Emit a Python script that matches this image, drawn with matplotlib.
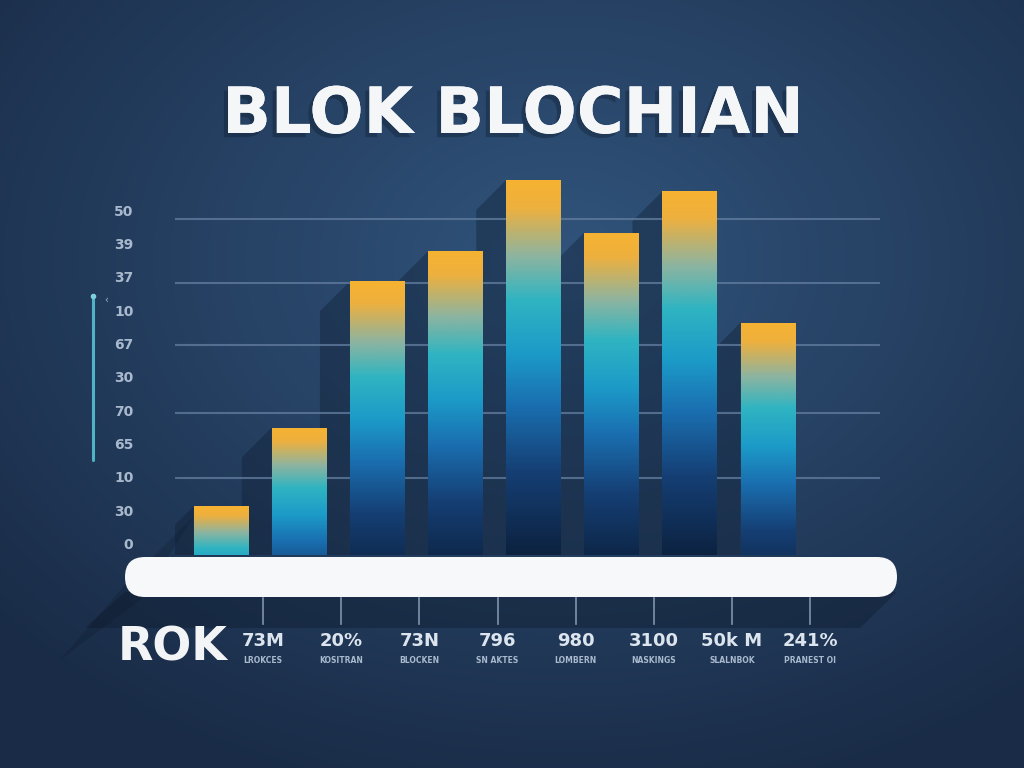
import numpy as np
import matplotlib
matplotlib.use('Agg')
import matplotlib.pyplot as plt
from matplotlib.colors import LinearSegmentedColormap
from matplotlib.patches import FancyBboxPatch, Polygon
import matplotlib.patheffects as pe

# data
bar_values = [13, 34, 73, 81, 100, 86, 97, 62]
y_tick_labels = ['0', '30', '10', '65', '70', '30', '67', '10', '37', '39', '50']
grid_levels = [20.5, 38, 56, 72.5, 89.6]
value_labels = ['73M', '20%', '73N', '796', '980', '3100', '50k M', '241%']
sub_labels = ['LROKCES', 'KOSITRAN', 'BLOCKEN', 'SN AKTES',
              'LOMBERN', 'NASKINGS', 'SLALNBOK', 'PRANEST OI']

W, H = 1024, 768
fig = plt.figure(figsize=(W / 100, H / 100), dpi=100)

# background: radial navy gradient
bg = fig.add_axes([0, 0, 1, 1])
bg.set_axis_off()
yy, xx = np.mgrid[0:H, 0:W]
r = np.sqrt(((xx - 560) / 760.0) ** 2 + ((yy - 260) / 560.0) ** 2)
r = np.clip(r, 0, 1)
c_in = np.array([0x31, 0x54, 0x7C]) / 255
c_out = np.array([0x19, 0x2B, 0x46]) / 255
img = c_in[None, None, :] * (1 - r[..., None]) + c_out[None, None, :] * r[..., None]
bg.imshow(img, extent=(0, W, H, 0), aspect='auto')
bg.set_xlim(0, W)
bg.set_ylim(H, 0)

# dark band below the white base bar
bg.add_patch(Polygon([(897, 592), (125, 592), (85, 628), (860, 628)],
                     closed=True, color='#0C1828', alpha=0.35, lw=0))
bg.add_patch(Polygon([(195, 515), (125, 585), (60, 660), (140, 600)],
                     closed=True, color='#0C1828', alpha=0.22, lw=0))

# left teal marker line
bg.plot([93, 93], [297, 460], color='#4FB3C8', lw=2.2, solid_capstyle='round')
bg.plot([93], [296], 'o', color='#7FD0DD', ms=3)
bg.text(106, 300, '‹', color='#9FB2C8', fontsize=7, ha='center', va='center')

# title
bg.text(513, 115, 'BLOK BLOCHIAN', color='#F4F6F8', fontsize=46,
        fontweight='bold', ha='center', va='center',
        path_effects=[pe.withSimplePatchShadow(offset=(-3, -3), shadow_rgbFace='#0D1A2C', alpha=0.35),
                      pe.Normal()])

# ROK
bg.text(118, 648, 'ROK', color='#F2F4F6', fontsize=33, fontweight='bold',
        ha='left', va='center')

# main axes
ax = fig.add_axes([175 / W, (H - 555) / H, 705 / W, 375 / H])
ax.patch.set_alpha(0)
for s in ax.spines.values():
    s.set_visible(False)

x = np.arange(len(bar_values))
bars = ax.bar(x, bar_values, width=0.70, color='none', zorder=4)

# shadows to the lower-left of each bar
sx, sy = 30 / 78.1, 30 / 3.75
for b in bars:
    x0, h = b.get_x(), b.get_height()
    ax.add_patch(Polygon([(x0, h), (x0 - sx, h - sy), (x0 - sx, 0), (x0, 0)],
                         closed=True, color='#0E1D31', alpha=0.38, lw=0, zorder=1))

for g in grid_levels:
    ax.axhline(g, color='#5F7A9C', lw=1.5, alpha=0.8, zorder=2)

# gradient fill of each bar
cmap = LinearSegmentedColormap.from_list('bar', [
    (0.00, '#F6B332'), (0.07, '#EEB03E'), (0.20, '#8DB4A0'),
    (0.32, '#2FB4C2'), (0.46, '#1C9BC8'), (0.60, '#1A6FB0'),
    (0.78, '#153F74'), (1.00, '#0C2240')])
for b in bars:
    x0, w, h = b.get_x(), b.get_width(), b.get_height()
    d = np.linspace(0, h, 200)
    t = np.clip(d / (0.75 * h + 25), 0, 1)
    im = ax.imshow(t[:, None], cmap=cmap, vmin=0, vmax=1,
                   extent=(x0, x0 + w, 0, h), origin='upper',
                   aspect='auto', zorder=4)
    im.set_clip_path(b)

ax.set_xlim(-0.589, 8.434)
ax.set_ylim(0, 100)

ax.set_yticks(np.linspace(3, 92, len(y_tick_labels)))
ax.set_yticklabels(y_tick_labels, color='#A9B9CD', fontsize=10, fontweight='bold')
ax.tick_params(axis='y', length=0, pad=30)
ax.set_xticks([])

# white rounded base bar
base = FancyBboxPatch((125 / W, (H - 597) / H), 772 / W, 40 / H,
                      boxstyle='round,pad=0,rounding_size=%f' % (20 / W),
                      mutation_aspect=W / H, transform=fig.transFigure,
                      facecolor='#F7F8FA', edgecolor='none', zorder=5)
fig.patches.append(base)

# bottom tick lines and labels
tr = ax.get_xaxis_transform()
for i, (v, s) in enumerate(zip(value_labels, sub_labels)):
    xc = i + 0.54
    ax.plot([xc, xc], [-0.115, -0.185], color='#7F93AC', lw=1.2,
            transform=tr, clip_on=False)
    ax.text(xc, -0.228, v, transform=tr, ha='center', va='center',
            color='#DCE4EE', fontsize=13, fontweight='bold')
    ax.text(xc, -0.282, s, transform=tr, ha='center', va='center',
            color='#A9BACE', fontsize=5.5, fontweight='bold')

fig.savefig('out.png', dpi=100)
